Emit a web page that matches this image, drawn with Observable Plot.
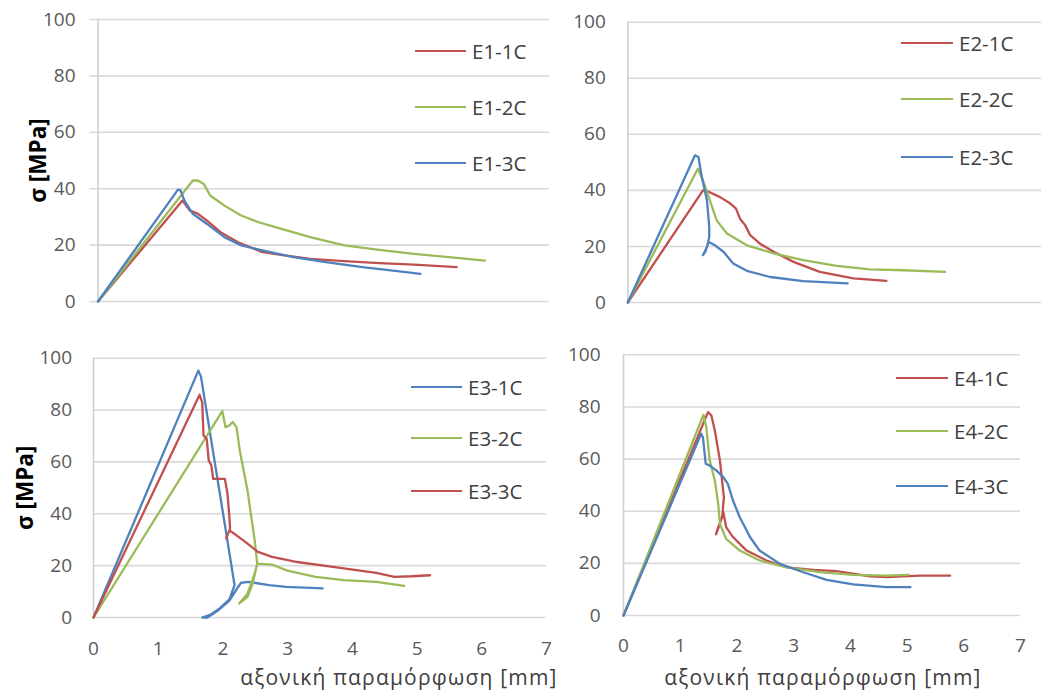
<!DOCTYPE html>
<html><head><meta charset="utf-8">
<script src="https://cdn.jsdelivr.net/npm/d3@7"></script>
<script src="https://cdn.jsdelivr.net/npm/@observablehq/plot@0.6"></script>
<style>
body{margin:0;background:#fff;}
#wrap{position:relative;width:1041px;height:692px;overflow:hidden;background:#fff;font-family:"Open Sans",sans-serif;}
.panel{position:absolute;}
.legend-row{position:absolute;height:26px;display:flex;align-items:center;white-space:nowrap;font-size:20.5px;color:#404040;font-family:"Open Sans",sans-serif;}
.legend-row .sw{display:inline-block;height:2.5px;margin-right:6px;}
</style></head><body><div id="wrap"></div>
<script>
// ---- data ----
const xTicks = [0, 1, 2, 3, 4, 5, 6, 7];
const yTicks = [0, 20, 40, 60, 80, 100];
const yTitle = "σ [MPa]";
const xTitle = "αξονική παραμόρφωση [mm]";

const E1_1C = [[0,0],[1.31,35.8],[1.42,32.3],[1.55,31.1],[1.69,28.7],[1.90,24.6],[2.17,21.0],[2.55,17.5],[2.92,16.3],[3.29,15.1],[3.82,14.3],[4.36,13.6],[4.9,13.1],[5.56,12.2]];
const E1_2C = [[0,0],[1.47,42.9],[1.55,42.9],[1.64,41.7],[1.74,37.6],[1.96,34.0],[2.22,30.5],[2.49,28.1],[2.75,26.4],[3.29,22.8],[3.82,19.9],[4.36,18.3],[4.9,16.9],[5.44,15.7],[6.0,14.5]];
const E1_3C = [[0,0],[1.24,39.7],[1.28,39.4],[1.34,35.8],[1.47,31.1],[1.69,27.5],[1.96,22.8],[2.22,19.9],[2.55,18.1],[3.03,15.7],[3.56,13.9],[4.1,12.2],[4.64,10.8],[5.0,9.8]];

const E2_1C = [[0,0],[1.32,40.0],[1.39,39.8],[1.62,37.6],[1.8,35.3],[1.9,33.5],[1.97,29.9],[2.06,27.6],[2.15,24.0],[2.32,21.0],[2.56,18.1],[2.91,14.5],[3.37,10.9],[3.96,8.6],[4.54,7.7]];
const E2_2C = [[0,0],[1.23,47.7],[1.33,43.0],[1.44,36.5],[1.56,29.3],[1.74,24.6],[2.09,20.4],[2.56,17.5],[3.08,15.1],[3.67,13.1],[4.25,11.8],[4.84,11.5],[5.57,10.9]];
const E2_3C = [[0,0],[1.18,52.5],[1.24,51.9],[1.3,44.8],[1.39,36.5],[1.43,27.0],[1.43,23.4],[1.39,19.8],[1.32,16.9],[1.36,18.1],[1.42,21.6],[1.53,20.4],[1.68,18.1],[1.85,13.9],[2.09,11.3],[2.5,9.1],[3.08,7.6],[3.86,6.8]];

const E3_1C = [[0,0],[1.62,95.2],[1.66,93.0],[2.18,12.5],[2.1,7],[1.95,3.5],[1.8,1],[1.68,0],[1.76,0],[1.93,2.8],[2.1,6.5],[2.2,10.5],[2.28,13.4],[2.4,13.7],[2.71,12.5],[2.98,11.8],[3.54,11.2]];
const E3_2C = [[0,0],[1.99,79.6],[2.04,73.4],[2.1,74.1],[2.15,75.4],[2.21,73.4],[2.26,64.4],[2.38,49.0],[2.49,29.8],[2.53,20.8],[2.49,16.9],[2.38,9.2],[2.25,5.4],[2.38,8.0],[2.46,13.1],[2.53,20.8],[2.76,20.4],[2.98,18.2],[3.43,15.7],[3.87,14.4],[4.37,13.7],[4.8,12.2]];
const E3_3C = [[0,0],[1.64,85.9],[1.68,83],[1.7,70.2],[1.75,68.9],[1.78,60.6],[1.82,58.7],[1.85,53.5],[1.99,53.5],[2.03,53.5],[2.07,47.8],[2.1,38.8],[2.11,34.3],[2.05,30.4],[2.1,33.6],[2.21,31.7],[2.38,28.5],[2.54,25.3],[2.76,23.4],[3.15,21.4],[3.7,19.5],[4.09,18.2],[4.37,17.2],[4.65,15.7],[4.92,15.9],[5.2,16.3]];

const E4_1C = [[0,0],[1.49,78.0],[1.55,76.7],[1.61,71.0],[1.7,59.5],[1.77,45.4],[1.74,37.7],[1.67,33.9],[1.63,31.1],[1.7,35.2],[1.76,39.6],[1.81,33.9],[1.93,30.1],[2.17,24.9],[2.52,21.1],[2.88,18.5],[3.35,17.5],[3.76,17.0],[4.35,15.0],[4.64,14.7],[5.23,15.3],[5.76,15.3]];
const E4_2C = [[0,0],[1.41,77.0],[1.46,72.3],[1.52,59.5],[1.61,51.8],[1.67,42.8],[1.7,35.2],[1.81,29.4],[2.05,24.9],[2.4,21.1],[2.88,18.5],[3.46,16.6],[4.05,15.6],[4.64,15.3],[5.03,15.6]];
const E4_3C = [[0,0],[1.37,69.7],[1.4,68.4],[1.45,58.2],[1.52,57.5],[1.64,55.6],[1.76,53.1],[1.84,50.5],[1.93,44.1],[2.05,37.7],[2.23,30.1],[2.4,24.9],[2.76,19.8],[3.17,16.6],[3.58,13.7],[4.05,11.9],[4.64,10.9],[5.06,10.9]];

const RED = "#C0504D", GREEN = "#9BBB59", BLUE = "#4F81BD";
const names1 = ["E1-1C","E1-2C","E1-3C"], colors1 = [RED, GREEN, BLUE];
const names2 = ["E2-1C","E2-2C","E2-3C"], colors2 = [RED, GREEN, BLUE];
const names3 = ["E3-1C","E3-2C","E3-3C"], colors3 = [BLUE, GREEN, RED];
const names4 = ["E4-1C","E4-2C","E4-3C"], colors4 = [RED, GREEN, BLUE];

// ---- layout ----
const wrap = document.getElementById("wrap");

function panel(cfg) {
  const marks = [
    Plot.ruleY(yTicks, {stroke: "#d9d9d9", strokeWidth: 1.6, insetLeft: -cfg.tickExt, insetRight: -cfg.gridExt}),
    Plot.ruleX([0], {stroke: "#cfcfcf", strokeWidth: 1.6}),
    Plot.axisY({ticks: yTicks, tickSize: 0, tickPadding: cfg.yPad, label: null, fontSize: 19, fill: "#595959"}),
  ];
  cfg.series.forEach((s, i) => {
    marks.push(Plot.line(s, {x: d => d[0], y: d => d[1], stroke: cfg.colors[i], strokeWidth: 2.3, strokeLinejoin: "round"}));
  });
  if (cfg.showX) {
    marks.push(Plot.axisX({ticks: xTicks, tickFormat: d => String(d), tickSize: 0, tickPadding: cfg.xPad, label: null, fontSize: 19, fill: "#595959"}));
    marks.push(Plot.text([xTitle], {frameAnchor: "bottom", lineAnchor: "middle", textAnchor: "middle", dx: cfg.xTitleDx, dy: cfg.xTitleDy, fill: "#404040", fontSize: 21}));
  }
  if (cfg.yLabelDx != null) {
    marks.push(Plot.text([yTitle], {frameAnchor: "left", rotate: -90, textAnchor: "middle", lineAnchor: "middle", dx: cfg.yLabelDx, fill: "#000", fontWeight: "bold", fontSize: 22.5}));
  }
  const chart = Plot.plot({
    width: cfg.w, height: cfg.h,
    marginLeft: cfg.ml, marginTop: cfg.mt, marginRight: cfg.mr, marginBottom: cfg.mb,
    x: {domain: [0, 7], axis: cfg.showX ? undefined : null},
    y: {domain: [0, 100]},
    style: {fontFamily: '"Open Sans", sans-serif', fontSize: "19px", color: "#595959", background: "transparent", overflow: "visible"},
    marks
  });
  // widen the x-axis title a little, as in the reference
  d3.select(chart).selectAll("text").filter(function() { return this.textContent === xTitle; })
    .style("letter-spacing", "1.2px");
  const div = document.createElement("div");
  div.className = "panel";
  div.style.left = cfg.left + "px";
  div.style.top = cfg.top + "px";
  div.appendChild(chart);
  wrap.appendChild(div);

  cfg.names.forEach((n, i) => {
    const row = document.createElement("div");
    row.className = "legend-row";
    row.style.left = cfg.legX + "px";
    row.style.top = (cfg.legY[i] - 13) + "px";
    const sw = document.createElement("span");
    sw.className = "sw";
    sw.style.width = cfg.legW + "px";
    sw.style.background = cfg.colors[i];
    row.appendChild(sw);
    row.appendChild(document.createTextNode(n));
    wrap.appendChild(row);
  });
}

panel({series: [E1_1C, E1_2C, E1_3C], colors: colors1, names: names1,
  left: 0, top: 0, w: 560, h: 320, ml: 97.5, mt: 19, mr: 11, mb: 19,
  tickExt: 8, gridExt: 0, yPad: 22.5, showX: false, yLabelDx: -59.5,
  legX: 415, legW: 51, legY: [51, 107, 163]});

panel({series: [E2_1C, E2_2C, E2_3C], colors: colors2, names: names2,
  left: 520, top: 0, w: 521, h: 320, ml: 107.3, mt: 21.7, mr: 15, mb: 18,
  tickExt: 0, gridExt: 15, yPad: 22, showX: false, yLabelDx: null,
  legX: 901, legW: 52, legY: [43, 99, 157]});

panel({series: [E3_1C, E3_2C, E3_3C], colors: colors3, names: names3,
  left: 0, top: 330, w: 560, h: 362, ml: 93, mt: 27.7, mr: 14, mb: 75,
  tickExt: 0, gridExt: 0, yPad: 21.5, showX: true, xPad: 24, xTitleDx: 79, xTitleDy: 61, yLabelDx: -68,
  legX: 411, legW: 51, legY: [387, 438, 491]});

panel({series: [E4_1C, E4_2C, E4_3C], colors: colors4, names: names4,
  left: 520, top: 330, w: 521, h: 362, ml: 103, mt: 24.3, mr: 21, mb: 77,
  tickExt: 0, gridExt: 0, yPad: 23, showX: true, xPad: 23, xTitleDx: 1, xTitleDy: 63, yLabelDx: null,
  legX: 896, legW: 52, legY: [378, 431, 486]});
</script></body></html>
